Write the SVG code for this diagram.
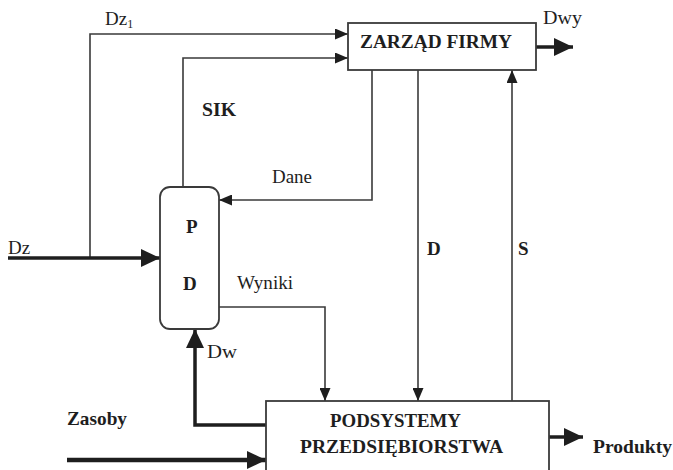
<svg xmlns="http://www.w3.org/2000/svg" width="673" height="470" viewBox="0 0 673 470">
<style>
text{font-family:"Liberation Serif","Times New Roman",serif;fill:#1e1e1e;font-size:19px}
.b{font-weight:bold}
.thin{fill:none;stroke:#3a3a3a;stroke-width:1.6}
.thick{fill:none;stroke:#1e1e1e;stroke-width:3.5}
.box{fill:#fff;stroke:#3a3a3a;stroke-width:1.8}
</style>
<defs>
<marker id="a" markerUnits="userSpaceOnUse" markerWidth="13" markerHeight="11" refX="13" refY="5.5" orient="auto">
<path d="M0,0 L13,5.5 L0,11 z" fill="#1e1e1e"/>
</marker>
<marker id="A" markerUnits="userSpaceOnUse" markerWidth="19" markerHeight="18" refX="19" refY="9" orient="auto">
<path d="M0,0 L19,9 L0,18 z" fill="#1e1e1e"/>
</marker>
</defs>
<rect width="673" height="470" fill="#fff"/>
<g id="connectors">
<path class="thin" d="M90,258 V34 H348" marker-end="url(#a)"/>
<path class="thin" d="M183,187 V58 H348" marker-end="url(#a)"/>
<path class="thin" d="M372,70 V200 H219" marker-end="url(#a)"/>
<path class="thin" d="M418,70 V401" marker-end="url(#a)"/>
<path class="thin" d="M512,401 V70" marker-end="url(#a)"/>
<path class="thin" d="M219,307 H325 V401" marker-end="url(#a)"/>
<path class="thick" d="M8,258 H160" marker-end="url(#A)"/>
<path class="thick" d="M536,47 H573" marker-end="url(#A)"/>
<path class="thick" d="M266,425 H195 V329" marker-end="url(#A)"/>
<path class="thick" d="M549,437 H583" marker-end="url(#A)"/>
<path class="thick" style="stroke-width:4.5" d="M67,460 H266" marker-end="url(#A)"/>
</g>
<g id="zarzad">
<rect class="box" x="348" y="23" width="188" height="47"/>
<text class="b" x="360" y="48" textLength="152" lengthAdjust="spacingAndGlyphs">ZARZĄD FIRMY</text>
</g>
<g id="pd">
<rect class="box" x="160" y="187" width="59" height="142" rx="10"/>
<text class="b" x="186" y="233" font-size="21">P</text>
<text class="b" x="183" y="290" font-size="21">D</text>
</g>
<g id="podsystemy">
<rect class="box" x="266" y="401" width="283" height="80"/>
<text class="b" x="330" y="427" textLength="131" lengthAdjust="spacingAndGlyphs">PODSYSTEMY</text>
<text class="b" x="300" y="453" textLength="203" lengthAdjust="spacingAndGlyphs">PRZEDSIĘBIORSTWA</text>
</g>
<g id="labels">
<text x="105" y="25">Dz<tspan font-size="12" dy="3">1</tspan></text>
<text x="543" y="24" textLength="39" lengthAdjust="spacingAndGlyphs">Dwy</text>
<text class="b" x="202" y="116" textLength="34" lengthAdjust="spacingAndGlyphs">SIK</text>
<text x="272" y="183" textLength="40" lengthAdjust="spacingAndGlyphs">Dane</text>
<text x="8" y="254">Dz</text>
<text x="237" y="289" textLength="56" lengthAdjust="spacingAndGlyphs">Wyniki</text>
<text class="b" x="427" y="255">D</text>
<text class="b" x="518" y="255">S</text>
<text x="207" y="358" textLength="30" lengthAdjust="spacingAndGlyphs">Dw</text>
<text class="b" x="67" y="425" textLength="60" lengthAdjust="spacingAndGlyphs">Zasoby</text>
<text class="b" x="593" y="453" textLength="79" lengthAdjust="spacingAndGlyphs">Produkty</text>
</g>
</svg>
